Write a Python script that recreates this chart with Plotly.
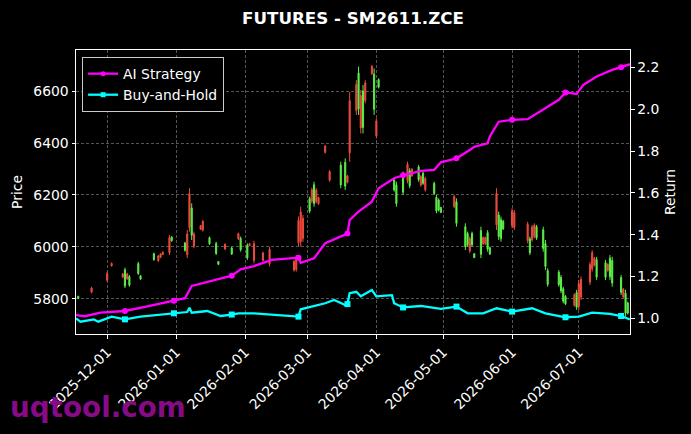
import plotly.graph_objects as go

# ---------------- candle data ----------------
candle_dates = [
    "2025-11-18", "2025-11-24", "2025-12-01", "2025-12-03", "2025-12-08", "2025-12-09", "2025-12-10",
    "2025-12-11", "2025-12-15", "2025-12-16", "2025-12-22", "2025-12-24", "2025-12-25", "2025-12-26",
    "2025-12-29", "2025-12-30", "2026-01-05", "2026-01-06", "2026-01-07", "2026-01-08", "2026-01-09",
    "2026-01-12", "2026-01-13", "2026-01-16", "2026-01-19", "2026-01-20", "2026-01-23", "2026-01-26",
    "2026-01-29", "2026-01-30", "2026-02-02", "2026-02-03", "2026-02-05", "2026-02-09", "2026-02-12",
    "2026-02-23", "2026-02-24", "2026-02-25", "2026-02-26", "2026-02-27", "2026-03-02", "2026-03-03",
    "2026-03-04", "2026-03-05", "2026-03-06", "2026-03-09", "2026-03-11", "2026-03-16", "2026-03-18",
    "2026-03-19", "2026-03-20", "2026-03-23", "2026-03-24", "2026-03-25", "2026-03-26", "2026-03-27",
    "2026-03-30", "2026-03-31", "2026-04-01", "2026-04-02", "2026-04-09", "2026-04-10", "2026-04-13",
    "2026-04-15", "2026-04-16", "2026-04-17", "2026-04-20", "2026-04-21", "2026-04-22", "2026-04-23",
    "2026-04-27", "2026-04-28", "2026-04-29", "2026-04-30", "2026-05-06", "2026-05-07", "2026-05-11",
    "2026-05-12", "2026-05-13", "2026-05-14", "2026-05-15", "2026-05-18", "2026-05-19", "2026-05-20",
    "2026-05-21", "2026-05-22", "2026-05-25", "2026-05-26", "2026-05-27", "2026-05-28", "2026-06-01",
    "2026-06-02", "2026-06-08", "2026-06-09", "2026-06-10", "2026-06-11", "2026-06-12", "2026-06-15",
    "2026-06-16", "2026-06-17", "2026-06-22", "2026-06-23", "2026-06-24", "2026-06-25", "2026-06-29",
    "2026-06-30", "2026-07-01", "2026-07-02", "2026-07-06", "2026-07-07", "2026-07-08", "2026-07-09",
    "2026-07-13", "2026-07-14", "2026-07-15", "2026-07-16", "2026-07-20", "2026-07-21", "2026-07-22",
    "2026-07-23",
]
opens = [
    5810, 5826, 5872, 5927, 5884, 5912, 5878, 5886, 5936, 5889, 5974, 5947, 5960, 5971,
    5978, 6038, 6015, 5970, 6075, 6150, 6003, 6068, 6065, 6036, 6013, 5944, 5992, 5996,
    6031, 6033, 6006, 6005, 5948, 5948, 5935, 5911, 5913, 6016, 6021, 6033, 6186, 6176,
    6239, 6175, 6166, 6364, 6257, 6315, 6326, 6249, 6362, 6525, 6670, 6458, 6600, 6564,
    6667, 6665, 6428, 6644, 6258, 6239, 6279, 6255, 6293, 6274, 6308, 6238, 6284, 6220,
    6245, 6191, 6181, 6152, 6155, 6174, 6078, 6052, 5984, 6052, 5974, 6063, 6012, 6012,
    6055, 5997, 6085, 6123, 6105, 6099, 6082, 6075, 6024, 6031, 6028, 6040, 6078, 6066,
    6013, 5909, 5903, 5883, 5839, 5810, 5776, 5825, 5772, 5807, 5865, 5915, 5929, 5951,
    5940, 5909, 5957, 5948, 5882, 5807, 5822, 5784,
]
highs = [
    5812, 5847, 5905, 5940, 5900, 5920, 5901, 5892, 5943, 5892, 5978, 5969, 5976, 5982,
    6046, 6042, 6020, 6065, 6226, 6168, 6059, 6085, 6104, 6040, 6020, 5946, 6014, 6001,
    6055, 6040, 6014, 6014, 6024, 5982, 6001, 5950, 5969, 6117, 6155, 6123, 6194, 6228,
    6251, 6226, 6194, 6392, 6296, 6328, 6341, 6277, 6597, 6642, 6694, 6604, 6623, 6642,
    6700, 6687, 6495, 6649, 6264, 6251, 6290, 6328, 6303, 6303, 6316, 6277, 6290, 6270,
    6251, 6200, 6187, 6155, 6200, 6187, 6091, 6059, 6040, 6059, 5976, 6078, 6040, 6040,
    6065, 6001, 6226, 6136, 6117, 6104, 6149, 6142, 6097, 6040, 6085, 6091, 6085, 6078,
    6027, 5918, 5911, 5892, 5847, 5815, 5822, 5835, 5873, 5886, 5943, 5988, 5962, 5962,
    5950, 5937, 5969, 5962, 5892, 5842, 5835, 5790,
]
lows = [
    5800, 5822, 5866, 5925, 5880, 5842, 5873, 5847, 5892, 5873, 5947, 5943, 5957, 5969,
    5969, 6020, 5982, 5957, 6059, 6027, 5995, 6065, 6059, 6008, 5969, 5931, 5988, 5969,
    6027, 5982, 5950, 6004, 5937, 5943, 5925, 5905, 5905, 6001, 6001, 6020, 6130, 6168,
    6155, 6168, 6162, 6360, 6251, 6226, 6219, 6245, 6328, 6508, 6508, 6437, 6437, 6553,
    6662, 6508, 6418, 6610, 6213, 6155, 6200, 6245, 6226, 6270, 6251, 6232, 6239, 6213,
    6200, 6130, 6136, 6130, 6149, 6078, 5988, 6001, 5976, 6001, 5957, 5957, 6008, 6008,
    5982, 5969, 6065, 6027, 6020, 6065, 6072, 6065, 6014, 5969, 6020, 6033, 6027, 5982,
    5911, 5847, 5847, 5822, 5783, 5776, 5770, 5758, 5758, 5796, 5854, 5905, 5925, 5873,
    5873, 5905, 5873, 5847, 5815, 5802, 5732, 5740,
]
closes = [
    5802, 5842, 5898, 5937, 5896, 5850, 5896, 5853, 5898, 5876, 5951, 5965, 5973, 5980,
    6036, 6024, 5987, 6050, 6205, 6045, 6050, 6082, 6098, 6012, 5975, 5933, 6010, 5973,
    6051, 5989, 5958, 6013, 6013, 5977, 5991, 5944, 5961, 6102, 6135, 6110, 6138, 6220,
    6167, 6219, 6190, 6388, 6290, 6239, 6234, 6273, 6563, 6625, 6531, 6583, 6460, 6631,
    6695, 6530, 6485, 6615, 6219, 6167, 6211, 6318, 6236, 6299, 6259, 6271, 6245, 6263,
    6206, 6139, 6142, 6133, 6194, 6091, 6001, 6008, 6032, 6008, 5959, 5972, 6036, 6036,
    5992, 5973, 6206, 6040, 6032, 6070, 6139, 6132, 6087, 5978, 6077, 6084, 6034, 5994,
    5925, 5856, 5855, 5831, 5791, 5781, 5816, 5768, 5859, 5875, 5932, 5978, 5957, 5884,
    5883, 5933, 5885, 5861, 5825, 5837, 5745, 5746,
]

# ---------------- return curves ----------------
ai_dates = [
    "2025-11-17", "2025-11-21", "2025-11-28", "2025-12-09", "2025-12-18", "2025-12-31", "2026-01-05",
    "2026-01-08", "2026-01-15", "2026-01-26", "2026-01-30", "2026-02-05", "2026-02-13", "2026-02-25",
    "2026-02-26", "2026-03-04", "2026-03-09", "2026-03-18", "2026-03-19", "2026-03-20", "2026-03-24",
    "2026-03-30", "2026-04-02", "2026-04-09", "2026-04-13", "2026-04-21", "2026-04-27", "2026-04-30",
    "2026-05-07", "2026-05-13", "2026-05-15", "2026-05-21", "2026-05-22", "2026-05-26", "2026-06-01",
    "2026-06-08", "2026-06-15", "2026-06-22", "2026-06-25", "2026-06-30", "2026-07-03", "2026-07-09",
    "2026-07-16", "2026-07-20", "2026-07-24",
]
ai_values = [
    1.015, 1.010, 1.027, 1.035, 1.055, 1.084, 1.096,
    1.155, 1.175, 1.204, 1.234, 1.250, 1.279, 1.290,
    1.265, 1.287, 1.359, 1.400, 1.405, 1.470, 1.510,
    1.558, 1.622, 1.670, 1.684, 1.705, 1.710, 1.746,
    1.765, 1.805, 1.820, 1.837, 1.870, 1.940, 1.949,
    1.952, 1.997, 2.045, 2.080, 2.073, 2.116, 2.156,
    2.188, 2.200, 2.215,
]
bh_dates = [
    "2025-11-17", "2025-11-19", "2025-11-25", "2025-11-27", "2025-12-03", "2025-12-09", "2025-12-16",
    "2025-12-31", "2026-01-06", "2026-01-07", "2026-01-08", "2026-01-15", "2026-01-21", "2026-01-26",
    "2026-01-29", "2026-02-05", "2026-02-25", "2026-02-26", "2026-03-04", "2026-03-09", "2026-03-13",
    "2026-03-18", "2026-03-19", "2026-03-20", "2026-03-23", "2026-03-25", "2026-03-30", "2026-04-01",
    "2026-04-08", "2026-04-09", "2026-04-13", "2026-04-21", "2026-04-30", "2026-05-07", "2026-05-12",
    "2026-05-19", "2026-05-25", "2026-06-01", "2026-06-10", "2026-06-16", "2026-06-25", "2026-07-01",
    "2026-07-07", "2026-07-15", "2026-07-20", "2026-07-24",
]
bh_values = [
    1.000, 0.984, 0.995, 0.984, 1.008, 0.995, 1.008,
    1.024, 1.030, 1.051, 1.027, 1.035, 1.011, 1.018,
    1.024, 1.024, 1.008, 1.043, 1.059, 1.072, 1.088,
    1.064, 1.068, 1.120, 1.127, 1.105, 1.135, 1.105,
    1.111, 1.072, 1.052, 1.059, 1.045, 1.056, 1.024,
    1.024, 1.048, 1.032, 1.048, 1.024, 1.005, 1.008,
    1.027, 1.021, 1.011, 0.995,
]
marker_dates = [
    "2025-12-09", "2025-12-31", "2026-01-26", "2026-02-25", "2026-03-19",
    "2026-04-13", "2026-05-07", "2026-06-01", "2026-06-25", "2026-07-20",
]

price_ticks = [5800, 6000, 6200, 6400, 6600]
return_ticks = [1.0, 1.2, 1.4, 1.6, 1.8, 2.0, 2.2]
date_ticks = ["2025-12-01", "2026-01-01", "2026-02-01", "2026-03-01",
              "2026-04-01", "2026-05-01", "2026-06-01", "2026-07-01"]

RED = "#ee4b3c"
GREEN = "#5cf048"
MAG = "#ff00ff"
CYAN = "#00ffff"
FONT = "DejaVu Sans"
GRID = "#555555"

fig = go.Figure()

fig.add_trace(go.Candlestick(
    x=candle_dates, open=opens, high=highs, low=lows, close=closes,
    increasing=dict(line=dict(color=RED, width=1), fillcolor=RED),
    decreasing=dict(line=dict(color=GREEN, width=1), fillcolor=GREEN),
    whiskerwidth=0, showlegend=False, yaxis="y", xaxis="x",
))

ai_lookup = dict(zip(ai_dates, ai_values))
bh_lookup = dict(zip(bh_dates, bh_values))

fig.add_trace(go.Scatter(x=ai_dates, y=ai_values, mode="lines", yaxis="y2",
                         line=dict(color=MAG, width=2.3), showlegend=False))
fig.add_trace(go.Scatter(x=marker_dates, y=[ai_lookup[d] for d in marker_dates], mode="markers",
                         yaxis="y2", marker=dict(color=MAG, size=6, symbol="circle"), showlegend=False))
fig.add_trace(go.Scatter(x=bh_dates, y=bh_values, mode="lines", yaxis="y2",
                         line=dict(color=CYAN, width=2.3), showlegend=False))
fig.add_trace(go.Scatter(x=marker_dates, y=[bh_lookup[d] for d in marker_dates], mode="markers",
                         yaxis="y2", marker=dict(color=CYAN, size=6, symbol="square"), showlegend=False))

# legend entries
fig.add_trace(go.Scatter(x=[None], y=[None], mode="lines+markers", name="AI Strategy", yaxis="y2",
                         line=dict(color=MAG, width=2.3), marker=dict(color=MAG, size=5, symbol="circle")))
fig.add_trace(go.Scatter(x=[None], y=[None], mode="lines+markers", name="Buy-and-Hold", yaxis="y2",
                         line=dict(color=CYAN, width=2.3), marker=dict(color=CYAN, size=5, symbol="square")))

axis_common = dict(
    showline=True, linecolor="white", linewidth=1,
    ticks="outside", ticklen=3.5, tickwidth=0.8, tickcolor="white",
    tickfont=dict(family=FONT, size=13.9, color="white"),
    zeroline=False, automargin=False,
)

fig.update_layout(
    width=691, height=434,
    paper_bgcolor="black", plot_bgcolor="black",
    margin=dict(l=76, r=61, t=50, b=100),
    font=dict(family=FONT, size=13.9, color="white"),
    title=dict(text="FUTURES - SM2611.ZCE", x=0.5, xref="paper", xanchor="center",
               y=1 - 18 / 434, yref="container", yanchor="middle",
               font=dict(family=FONT, size=16.7, color="white", weight="bold")),
    xaxis=dict(type="date", range=["2025-11-17", "2026-07-24"],
               tickvals=date_ticks, tickformat="%Y-%m-%d", tickangle=-45,
               showgrid=True, gridcolor=GRID, griddash="3px,2px", gridwidth=0.8,
               mirror=True, rangeslider=dict(visible=False), **axis_common),
    yaxis=dict(range=[5665, 6758], tickvals=price_ticks,
               showgrid=True, gridcolor=GRID, griddash="3px,2px", gridwidth=0.8,
               mirror=True,
               title=dict(text="Price", font=dict(family=FONT, size=13.9, color="white"), standoff=7),
               **axis_common),
    yaxis2=dict(range=[0.925, 2.283], tickvals=return_ticks, tickformat=".1f",
                overlaying="y", side="right", showgrid=False,
                title=dict(text="Return", font=dict(family=FONT, size=13.9, color="white"), standoff=6),
                **axis_common),
    legend=dict(x=0.011, y=0.975, xanchor="left", yanchor="top",
                bgcolor="black", bordercolor="#cccccc", borderwidth=1,
                font=dict(family=FONT, size=13.9, color="white"),
                tracegroupgap=0),
    annotations=[dict(text="uqtool.com", xref="paper", yref="paper",
                      x=(8 - 76) / 554, y=(334 - 408) / 284, xanchor="left", yanchor="middle",
                      showarrow=False,
                      font=dict(family=FONT, size=27.8, color="#870a87", weight="bold"))],
)

fig.write_html("out.html", config={"displayModeBar": False},
               post_script="document.body.style.margin='0';document.body.style.padding='0';")
